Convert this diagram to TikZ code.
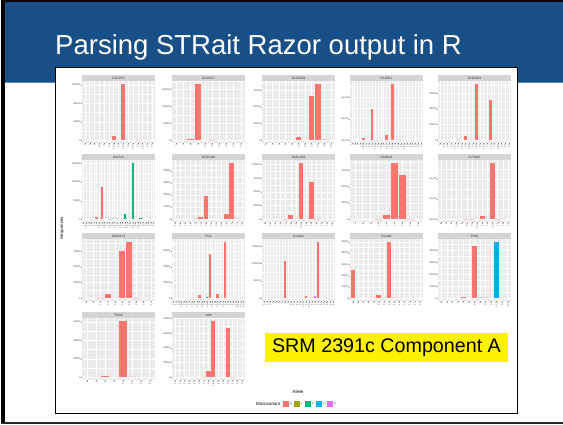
\documentclass[tikz,border=0pt]{standalone}
\usepackage{fontspec}
\setmainfont{Liberation Sans}
\usetikzlibrary{positioning}
\definecolor{slideblue}{RGB}{24,79,135}
\definecolor{panelgrey}{RGB}{235,235,235}
\definecolor{stripgrey}{RGB}{212,212,212}
\definecolor{cr}{HTML}{F8766D}
\definecolor{co}{HTML}{A3A500}
\definecolor{cg}{HTML}{00BF7D}
\definecolor{cb}{HTML}{00B0F6}
\definecolor{cmg}{HTML}{E76BF3}
\colorlet{crf}{cr!35!white}
\colorlet{cgf}{cg!35!white}
\colorlet{cbf}{cb!35!white}

\tikzset{
	titletext/.style={font=\fontsize{27.5}{33}\selectfont, text=white, inner sep=0pt},
	srmbox/.style={fill=yellow, font=\fontsize{19.7}{23}\selectfont, minimum width=243pt, minimum height=29pt, inner sep=0pt},
	striptext/.style={font=\fontsize{3.2}{3.6}\selectfont, text=black!80, inner sep=0pt},
	ylabtext/.style={font=\fontsize{2.5}{2.8}\selectfont, text=black!75, anchor=east, inner sep=0pt},
	xlabtext/.style={font=\fontsize{2.4}{2.7}\selectfont, text=black!75, anchor=east, rotate=90, inner sep=0pt},
	gridmajor/.style={white, line width=0.4pt},
	gridminor/.style={white, line width=0.2pt},
	tickmark/.style={black!50, line width=0.25pt},
	legtext/.style={font=\fontsize{4.4}{5}\selectfont, inner sep=0pt},
	legnum/.style={font=\fontsize{2.6}{3}\selectfont, inner sep=0pt},
	keybox/.style={minimum size=7pt, inner sep=0pt, draw=white, line width=0.3pt},
}

% #1 x, #2 y, #3 locus, #4 max (k), #5 tick step (k), #6 alleles, #7 ticks, #8 bars, #9 allele labels
\newcommand{\strpanel}[9]{
	\begin{scope}[shift={(#1,#2)}]
		\fill[panelgrey] (0,0) rectangle (73,62);
		\fill[stripgrey] (0,62) rectangle (73,68);
		\node[striptext] (#3) at (36.5,65) {#3};
		\pgfmathsetmacro{\dx}{73/(#6+0.2)}
		\begin{scope}
			\clip (0,0) rectangle (73,62);
			\foreach \v/\lab in {#7} {
				\pgfmathsetmacro{\yy}{62*(0.05+\v/#4)/1.1}
				\pgfmathsetmacro{\ym}{62*(0.05+(\v+#5/2)/#4)/1.1}
				\draw[gridmajor] (0,\yy) -- (73,\yy);
				\draw[gridminor] (0,\ym) -- (73,\ym);
			}
			\foreach \i in {1,...,#6} {
				\draw[gridmajor] ({(\i-0.4)*\dx},0) -- ({(\i-0.4)*\dx},62);
			}
		\end{scope}
		\foreach \v/\lab [count=\k] in {#7} {
			\pgfmathsetmacro{\yy}{62*(0.05+\v/#4)/1.1}
			\draw[tickmark] (-1,\yy) -- (0,\yy);
			\node[ylabtext] (#3-y\k) at (-1.4,\yy) {\lab};
		}
		\foreach \lab [count=\i] in {#9} {
			\pgfmathsetmacro{\xx}{(\i-0.4)*\dx}
			\draw[tickmark] (\xx,0) -- (\xx,-1);
			\node[xlabtext] (#3-x\i) at (\xx,-1.4) {\lab};
		}
		\foreach \i/\h/\c in {#8} {
			\pgfmathsetmacro{\xx}{(\i-0.4)*\dx}
			\pgfmathsetmacro{\yy}{62*(0.05+\h/#4)/1.1}
			\fill[fill=\c] ({\xx-0.45*\dx},{62*0.05/1.1}) rectangle ({\xx+0.45*\dx},\yy);
		}
	\end{scope}
}

\begin{document}
\begin{tikzpicture}[x=1pt, y=1pt]
	\useasboundingbox (0,0) rectangle (563,424);
	\fill[white] (0,0) rectangle (563,424);
	% slide frame and header
	\fill[black] (1,0) rectangle (5,424);
	\fill[black] (1,421.5) rectangle (563,424);
	\fill[black!85] (1,0) rectangle (563,2.4);
	\fill[slideblue] (5,341) rectangle (563,421.5);
	\draw[slideblue!70!white, line width=0.8pt] (5,341.4) -- (563,341.4);
	\node[titletext, anchor=base] (title) at (258.5,369) {Parsing STRait Razor output in R};

	% plot image
	\draw[black, line width=1pt, fill=white] (55,11) rectangle (517,356);

	% row 1
	\strpanel{82}{281}{CSF1PO}{122}{40}{15}{0/0,40/40000,80/80000,120/120000}{7/8/cr,9/122/cr,12/1.5/crf}{6,7,8,8.3,9,10,10.3,11,11.3,12,12.3,13,13.3,14,15}
	\strpanel{172}{281}{D13S317}{166}{50}{10}{0/0,50/50000,100/100000,150/150000}{3/3/cr,4/166/cr,6/1.5/crf}{6,7,8,9,10,11,12,13,14,15}
	\strpanel{262}{281}{D16S539}{85}{25}{11}{0/0,25/25000,50/50000,75/75000}{6/5/cr,8/67/cr,9/85/cr,10/1.2/crf}{5,6,7,8,9,10,11,12,13,14,15}
	\strpanel{350}{281}{D18S51}{131}{50}{25}{0/0e+00,50/5e+04,100/1e+05}{5/5/cr,8/72/cr,10/1.5/crf,13/11/cr,15/131/cr,18/1.5/crf}{7,8,9,10,10.2,11,12,13,13.2,14,14.2,15,15.2,16,16.2,17,17.2,18,18.2,19,20,21,22,23,24}
	\strpanel{438}{281}{D19S433}{72}{20}{20}{0/0,20/20000,40/40000,60/60000}{6/1/crf,8/5.3/cr,11/72/cr,15/51/cr}{9,10,11,12,12.2,13,13.2,14,14.2,15,15.2,16,16.2,17,17.2,18,18.2,19,20,21}

	% row 2
	\strpanel{82}{202}{D21S11}{152}{50}{28}{0/0,50/50000,100/100000,150/150000}{4/1.5/crf,6/5/cr,8/88/cr,11/1.5/crf,12/2/cgf,14/2/cgf,17/15/cg,20/152/cg,22/1.5/crf,23/3/cg}{24,24.2,25,26,27,28,28.2,29,29.2,30,30.2,31,31.2,32,32.2,33,33.1,33.2,34,34.2,35,35.2,36,37,38,39,40,41}
	\strpanel{172}{202}{D2S1338}{46.5}{10}{14}{0/0,10/10000,20/20000,30/30000,40/40000}{5/0.6/crf,6/1.4/cr,7/18.9/cr,11/4.2/cr,12/46.5/cr,13/0.6/crf}{15,16,17,18,19,20,21,22,23,24,25,26,27,28}
	\strpanel{262}{202}{D3S1358}{103}{25}{14}{0/0,25/25000,50/50000,75/75000,100/100000}{5/1/crf,6/8/cr,8/103/cr,10/67.5/cr,11/1/crf}{9,10,11,12,13,14,15,15.2,16,17,18,19,20,21}
	\strpanel{350}{202}{D5S818}{87}{25}{9}{0/0,25/25000,50/50000,75/75000}{4/1/crf,5/6.3/cr,6/87/cr,7/68/cr,8/1/crf}{7,8,9,10,11,12,13,14,15}
	\strpanel{438}{202}{D7S820}{280}{100}{14}{0/0e+00,100/1e+05,200/2e+05}{6/3/crf,7/3/crf,9/17/cr,11/280/cr,12/3/crf}{6,7,8,8.1,9,9.1,10,10.1,11,12,12.1,13,14,15}

	% row 3
	\strpanel{82}{123}{D8S1179}{90}{25}{10}{0/0,25/25000,50/50000,75/75000}{3/1/crf,4/7/cr,6/75.5/cr,7/90/cr,8/1/crf}{8,9,10,11,12,13,14,15,16,17}
	\strpanel{172}{123}{FGA}{71.7}{20}{28}{0/0,20/20000,40/40000,60/60000}{8/0.8/crf,11/4.4/cr,14/1.5/cb,15/56.6/cr,18/5.7/cr,21/71.7/cr,25/0.8/crf}{16,17,18,18.2,19,19.2,20,20.2,21,21.2,22,22.2,23,23.2,24,24.2,25,25.2,26,26.2,27,28,29,30,31.2,42.2,43.2,44.2}
	\strpanel{262}{123}{PentaD}{163}{50}{24}{0/0,50/50000,100/100000,150/150000}{8/108.6/cr,15/6/cr,18/7/cmg,19/163/cr,22/1.5/crf}{1.1,2.2,3.2,4,5,6,7,8,9,9.4,10,11,12,12.4,13,13.4,14,15,16,17,18,19,20,21}
	\strpanel{350}{123}{PentaE}{50}{10}{14}{0/0,10/10000,20/20000,30/30000,40/40000,50/50000}{1/24.9/cr,5/1/crf,6/2.4/cr,8/50/cr,9/1/crf}{5,6,7,8,9,10,11,12,13,14,15,16,17,18}
	\strpanel{438}{123}{TH01}{47}{10}{13}{0/0,10/10000,20/20000,30/30000,40/40000}{5/1.4/cr,7/43.4/cr,8/1.2/cbf,9/0.8/crf,11/47/cb}{3,4,5,6,7,8,8.3,9,9.3,10,10.3,11,13.3}

	% row 4
	\strpanel{82}{44}{TPOX}{61}{20}{8}{0/0,20/20000,40/40000,60/60000}{3/1.8/cr,5/61/cr,6/0.8/crf}{6,7,8,9,10,11,12,13}
	\strpanel{172}{44}{vWA}{77}{20}{15}{0/0,20/20000,40/40000,60/60000,80/80000}{7/0.8/crf,8/8.8/cr,9/77/cr,12/66.7/cr,13/0.8/crf}{11,12,13,14,15,16,17,18,18.3,19,20,21,22,23,24}

	\node[legtext, rotate=90] (ytitle) at (62,196) {Sequences};

	% legend
	\node[legtext] (legtitle) at (298,32) {Allele};
	\foreach \c [count=\k from 0] in {cr,co,cg,cb,cmg} {
		\node[keybox, fill=\c] (key\k) at (285.5+11*\k,20) {};
		\node[legnum, right=0.8pt of key\k] (keylab\k) {\k};
	}
	\node[legtext, left=1.5pt of key0] (legname) {Microvariant};

	\node[srmbox] (srm) at (386.5,76.5) {SRM 2391c Component A};
\end{tikzpicture}
\end{document}
